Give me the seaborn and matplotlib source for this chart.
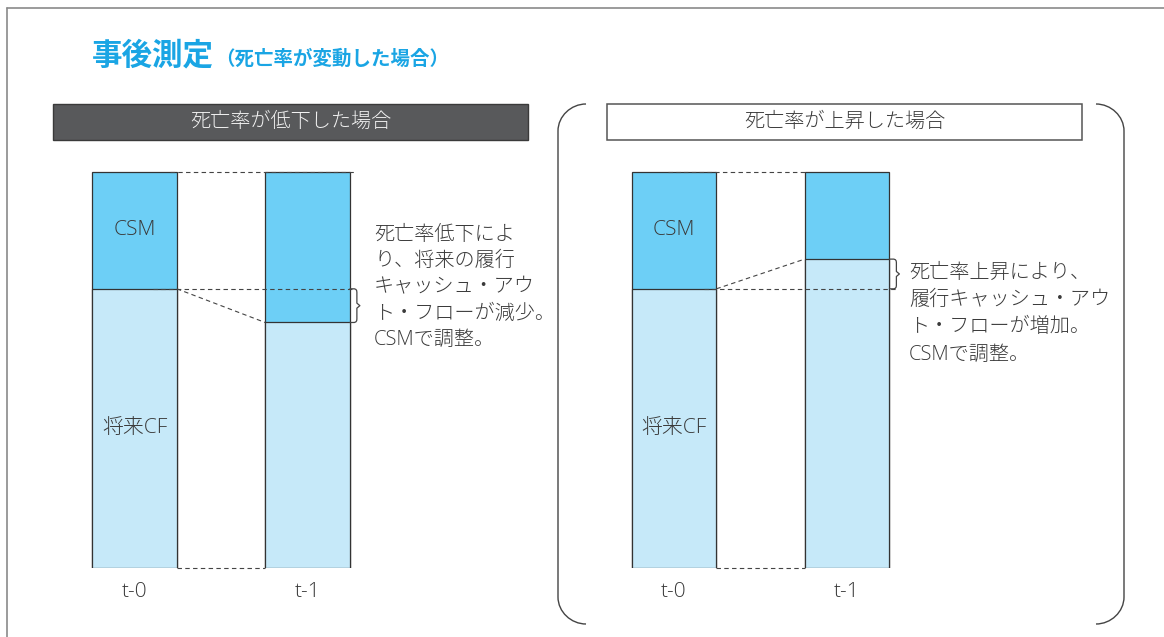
import matplotlib
matplotlib.use("Agg")
import matplotlib.pyplot as plt
import seaborn as sns
import pandas as pd
from matplotlib.patches import Rectangle, PathPatch
from matplotlib.lines import Line2D
from matplotlib.path import Path

# ---------------- data ----------------
periods = ["t-0", "t-1"]
total = [100, 100]            # future CF + CSM (same total at t-0 and t-1)
cf_decrease = [70.5, 62.0]    # future CF when mortality decreases
cf_increase = [70.5, 78.0]    # future CF when mortality increases
seg_labels = ["CSM", "将来CF"]

title_main = "事後測定"
title_sub = "（死亡率が変動した場合）"
panel_titles = ["死亡率が低下した場合", "死亡率が上昇した場合"]
notes_decrease = ["死亡率低下によ", "り、将来の履行", "キャッシュ・アウ", "ト・フローが減少。", "CSMで調整。"]
notes_increase = ["死亡率上昇により、", "履行キャッシュ・アウ", "ト・フローが増加。", "CSMで調整。"]

# ---------------- style ----------------
sns.set_theme(style="white")
plt.rcParams["font.family"] = ["Noto Sans CJK JP", "DejaVu Sans"]
BODY = ["Open Sans", "Noto Sans CJK JP", "DejaVu Sans"]
BW = "light"

CSM_C = "#6dcff6"
CF_C = "#c6e9f9"
EDGE = "#333333"
TXT = "#3a3a3a"
BAR_W = 0.49
HALF = BAR_W / 2
FS = 14.5

W, H = 1164, 637
fig = plt.figure(figsize=(W / 100, H / 100), dpi=100)
fig.patch.set_facecolor("white")


def fx(px):
    return px / W


def fy(py):
    return 1 - py / H


PX_X = 173.0   # pixels per category unit
PX_Y = 3.96    # pixels per value unit
BASE = 568     # pixel row of value 0
TOP = 160


def make_panel(left_px, right_px, center0_px):
    ax = fig.add_axes([fx(left_px), fy(BASE), (right_px - left_px) / W, (BASE - TOP) / H])
    return ax, (-(center0_px - left_px) / PX_X, (right_px - center0_px) / PX_X)


def draw_bars(ax, cf, xlim):
    df = pd.DataFrame({"period": periods, "total": total, "cf": cf})
    sns.barplot(data=df, x="period", y="total", color=CSM_C, saturation=1,
                width=BAR_W, edgecolor=EDGE, linewidth=0.9, errorbar=None, ax=ax)
    sns.barplot(data=df, x="period", y="cf", color=CF_C, saturation=1,
                width=BAR_W, edgecolor=EDGE, linewidth=0.9, errorbar=None, ax=ax)
    ax.set_xlim(*xlim)
    ax.set_ylim(0, (BASE - TOP) / PX_Y)
    ax.set_xlabel("")
    ax.set_ylabel("")
    ax.set_yticks([])
    for s in ax.spines.values():
        s.set_visible(False)
    ax.tick_params(axis="x", length=0, pad=10, labelcolor=TXT)
    for lab in ax.get_xticklabels():
        lab.set_family(BODY)
        lab.set_fontweight(BW)
        lab.set_fontsize(15)
    ax.patch.set_alpha(0)
    # segment labels in t-0 bar
    ax.text(0, (cf[0] + total[0]) / 2, seg_labels[0], ha="center", va="center",
            fontsize=15, color=TXT, family=BODY, fontweight=BW)
    ax.text(0, cf[0] / 2, seg_labels[1], ha="center", va="center",
            fontsize=15, color=TXT, family=BODY, fontweight=BW)


def dashed(ax, xs, ys):
    ax.plot(xs, ys, color="#444444", lw=0.8, linestyle=(0, (4, 3)),
            clip_on=False, zorder=5)


def brace(ax, x0, y_lo, y_hi):
    L = (y_hi - y_lo) * PX_Y
    m = L / 2
    pts = [(0, 0), (4.5, 0), (6, 0.6), (6.8, 1.8), (7, 3.5),
           (7, m - 2.5), (10, m), (7, m + 2.5),
           (7, L - 3.5), (6.8, L - 1.8), (6, L - 0.6), (4.5, L), (0, L)]
    xs = [x0 + dx / PX_X for dx, dy in pts]
    ys = [y_hi - dy / PX_Y for dx, dy in pts]
    ax.plot(xs, ys, color="#444444", lw=0.9, clip_on=False, zorder=6)


def notes(ax, lines, x, y0, step):
    for i, s in enumerate(lines):
        ax.text(x, y0 - i * step, s, ha="left", va="center", fontsize=FS,
                color=TXT, clip_on=False, family=BODY, fontweight=BW)


# ---------------- left panel: mortality decreased ----------------
axL, xlimL = make_panel(40, 560, 134.5)
draw_bars(axL, cf_decrease, xlimL)
dashed(axL, [0 + HALF - 0.04, 1 + HALF + 0.03], [total[0], total[1]])
dashed(axL, [0 + HALF - 0.14, 1 + HALF + 0.03], [cf_decrease[0], cf_decrease[0]])
dashed(axL, [0 + HALF, 1 - HALF], [cf_decrease[0], cf_decrease[1]])
dashed(axL, [0 + HALF, 1 - HALF], [0, 0])
brace(axL, 1 + HALF, cf_decrease[1], cf_decrease[0])
notes(axL, notes_decrease, (374 - 134.5) / PX_X, (BASE - 235) / PX_Y, 26.3 / PX_Y)

# ---------------- right panel: mortality increased ----------------
axR, xlimR = make_panel(580, 1150, 674)
draw_bars(axR, cf_increase, xlimR)
dashed(axR, [0 + HALF - 0.28, 1 - HALF], [total[0], total[1]])
dashed(axR, [0 + HALF - 0.07, 1 + HALF + 0.05], [cf_increase[0], cf_increase[0]])
dashed(axR, [0 + HALF, 1 - HALF], [cf_increase[0], cf_increase[1]])
dashed(axR, [0 + HALF, 1 - HALF], [0, 0])
brace(axR, 1 + HALF, cf_increase[0], cf_increase[1])
notes(axR, notes_increase, (909 - 674) / PX_X, (BASE - 273) / PX_Y, 27.2 / PX_Y)

# ---------------- header boxes ----------------
fig.add_artist(Rectangle((fx(53), fy(140)), 475 / W, 36 / H, transform=fig.transFigure,
                         facecolor="#58595b", edgecolor="#3a3a3a", lw=1))
fig.text(fx(290.5), fy(122), panel_titles[0], ha="center", va="center",
         fontsize=FS, color="#f2f2f2", family=BODY, fontweight=BW)
fig.add_artist(Rectangle((fx(607), fy(140)), 475 / W, 36 / H, transform=fig.transFigure,
                         facecolor="white", edgecolor="#555555", lw=1.1))
fig.text(fx(844.5), fy(122), panel_titles[1], ha="center", va="center",
         fontsize=FS, color=TXT, family=BODY, fontweight=BW)

# ---------------- rounded bracket around right panel ----------------
k = 0.5523
r = 27


def bracket(x_end, x_line, top, bot):
    d = 1 if x_line > x_end else -1
    verts = [
        (x_end, top),
        (x_end + d * r * k, top), (x_line, top + r - r * k), (x_line, top + r),
        (x_line, bot - r),
        (x_line, bot - r + r * k), (x_end + d * r * k, bot), (x_end, bot),
    ]
    codes = [Path.MOVETO, Path.CURVE4, Path.CURVE4, Path.CURVE4, Path.LINETO,
             Path.CURVE4, Path.CURVE4, Path.CURVE4]
    verts = [(fx(a), fy(b)) for a, b in verts]
    fig.add_artist(PathPatch(Path(verts, codes), transform=fig.transFigure,
                             facecolor="none", edgecolor="#444444", lw=1.0))


bracket(586, 558, 104, 624)
bracket(1096, 1124, 104, 624)

# ---------------- outer frame (top & left) ----------------
fig.add_artist(Line2D([fx(6.5), fx(6.5)], [0, fy(7.5)], transform=fig.transFigure,
                      color="#8a8a8a", lw=1.2))
fig.add_artist(Line2D([fx(6.5), 1], [fy(7.5), fy(7.5)], transform=fig.transFigure,
                      color="#8a8a8a", lw=1.2))

# ---------------- title ----------------
t1 = fig.text(fx(92), fy(65), title_main, ha="left", va="baseline",
              fontsize=22, fontweight="bold", color="#1aa5e4")
fig.canvas.draw()
bb = t1.get_window_extent(renderer=fig.canvas.get_renderer())
fig.text(bb.x1 / W + 1 / W, fy(65), title_sub, ha="left", va="baseline",
         fontsize=14, fontweight="bold", color="#1aa5e4")

fig.savefig("out.png", dpi=100, facecolor="white")
